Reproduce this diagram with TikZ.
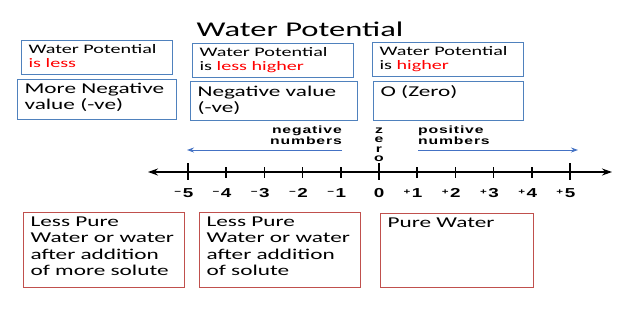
\documentclass[tikz,border=0pt]{standalone}
\usepackage{fontspec}
\setmainfont[FakeStretch=1.55]{Carlito}
\newfontfamily\numfont[FakeStretch=1.45]{Liberation Sans}
\newfontfamily\smallfont[FakeStretch=1.5,LetterSpace=8]{Liberation Sans}
\usetikzlibrary{arrows.meta}

\definecolor{boxblue}{RGB}{79,129,189}
\definecolor{boxred}{RGB}{192,80,77}
\definecolor{arrowblue}{RGB}{68,114,196}

\newcommand{\boxtext}[3]{\parbox[t][#2pt][t]{#1pt}{#3}}
\newcommand{\sgn}[1]{\raisebox{3pt}{\fontsize{8}{8}\selectfont #1}\kern1.5pt}

\tikzset{
  box/.style={anchor=north west,line width=1.2pt,inner xsep=7pt,inner ysep=4pt},
  bluebox/.style={box,draw=boxblue,font=\fontsize{13}{14}\selectfont},
  valbox/.style={box,draw=boxblue,font=\fontsize{15}{16}\selectfont},
  redbox/.style={box,draw=boxred,font=\fontsize{15}{16.5}\selectfont},
  numlab/.style={anchor=base,inner sep=0pt,font=\numfont\bfseries\fontsize{13}{13}\selectfont},
  smalllab/.style={inner sep=0pt,font=\smallfont\bfseries\fontsize{10.5}{9.5}\selectfont},
  bluearrow/.style={-{Stealth[length=7pt,width=5pt]},draw=arrowblue,line width=0.9pt},
}

\begin{document}
\begin{tikzpicture}[x=1pt,y=-1pt,>={Stealth[length=10pt,width=7pt]}]
  \useasboundingbox (0,0) rectangle (630,311);
  \node[anchor=base,font=\fontsize{21}{21}\selectfont] (title) at (300,36) {Water Potential};

  % water potential
  \node[bluebox] (wpLess) at (21,40)
    {\boxtext{137}{26}{Water Potential\\\textcolor{red}{is less}}};
  \node[bluebox] (wpLessHigher) at (192,43)
    {\boxtext{147}{26}{Water Potential\\is \textcolor{red}{less higher}}};
  \node[bluebox] (wpHigher) at (372,42)
    {\boxtext{137}{26}{Water Potential\\is \textcolor{red}{higher}}};

  % values
  \node[valbox] (valMoreNeg) at (17,79)
    {\boxtext{145}{32}{More Negative\\value (-ve)}};
  \node[valbox] (valNeg) at (190,81)
    {\boxtext{153}{31}{Negative value\\(-ve)}};
  \node[valbox] (valZero) at (373,81)
    {\boxtext{136}{31}{O (Zero)}};

  % number line
  \coordinate (lineL) at (148,172);
  \coordinate (lineR) at (612,172);
  \draw[<->,line width=1.3pt] (lineL) -- (lineR);
  \foreach \n in {1,...,5} {
    \draw[line width=1.5pt] (379-38.2*\n,167) -- ++(0,11);
    \draw[line width=1.5pt] (379+38.2*\n,167) -- ++(0,11);
    \node[numlab] (neg\n) at (379-38.2*\n,197) {\llap{\sgn{−}}\n};
    \node[numlab] (pos\n) at (379+38.2*\n,197) {\llap{\sgn{+}}\n};
  }
  \foreach \n in {-5,0,5}
    \draw[line width=1.7pt] (379+38.2*\n,163) -- ++(0,17);
  \node[numlab] (zeroNum) at (379,197) {0};

  \node[smalllab,align=center,anchor=north] (zero) at (379,127.5) {z\\e\\r\\o};
  \node[smalllab,align=right,anchor=north east] (negText) at (342,126) {negative\\numbers};
  \node[smalllab,align=left,anchor=north west] (posText) at (418,126) {positive\\numbers};
  \coordinate (negStart) at (342,150);
  \coordinate (negEnd) at (187,150);
  \coordinate (posStart) at (418,150);
  \coordinate (posEnd) at (578,150);
  \draw[bluearrow] (negStart) -- (negEnd);
  \draw[bluearrow] (posStart) -- (posEnd);

  % solutions
  \node[redbox] (solMore) at (23,212)
    {\boxtext{147}{67}{Less Pure\\Water or water\\after addition\\of more solute}};
  \node[redbox] (solLess) at (199,212)
    {\boxtext{147}{67}{Less Pure\\Water or water\\after addition\\of solute}};
  \node[redbox] (pure) at (380,213)
    {\boxtext{139}{66}{Pure Water}};
\end{tikzpicture}
\end{document}
